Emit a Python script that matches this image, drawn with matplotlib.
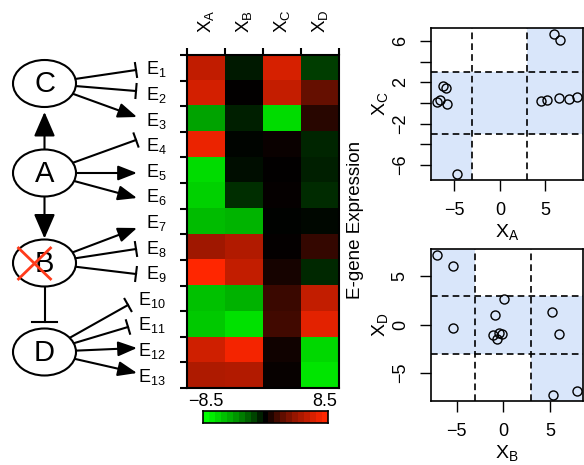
import numpy as np
import matplotlib
matplotlib.use('Agg')
import matplotlib.pyplot as plt
from matplotlib.colors import ListedColormap
from matplotlib.patches import Ellipse, Rectangle, FancyArrowPatch

plt.rcParams['font.family'] = ['Liberation Sans', 'DejaVu Sans']

# expression of the 13 E-genes, one list per regulator
genes = [str(i) for i in range(1, 14)]
regulators = ['A', 'B', 'C', 'D']
x_a = [5.94, 6.64, -4.67, 7.55, -6.93, -6.56, -5.76, 4.56, 8.50, -5.94, -6.27, 6.46, 5.14]
x_b = [-0.71, 0.07, -0.86, -0.14, -0.43, -1.14, -5.42, 5.25, 6.00, -5.36, -7.14, 7.93, 5.36]
x_c = [6.75, 6.10, -6.94, 0.36, 0.07, 0.26, -0.10, 0.16, 0.62, 1.45, 1.64, 0.49, 0.30]
x_d = [-1.52, 2.68, 1.03, -0.97, -0.82, -1.07, -0.31, 1.27, -1.00, 6.01, 7.22, -6.80, -7.29]

# network edges: regulator -> E-gene, 'act' = arrow, 'inh' = flat bar
edge_src = ['C', 'C', 'C', 'A', 'A', 'A', 'B', 'B', 'B', 'D', 'D', 'D', 'D']
edge_type = ['inh', 'inh', 'act', 'inh', 'act', 'act', 'act', 'inh', 'inh',
             'inh', 'inh', 'act', 'act']

W, H = 584, 465
fig = plt.figure(figsize=(W / 100, H / 100), dpi=100)


def box(l, t, r, b):
    # pixel box -> figure fraction
    return [l / W, 1 - b / H, (r - l) / W, (b - t) / H]


VMAX = 8.5
knot_v = [0, 0.3, 1.5, 2.7, 4.6, 6.0, 7.5, 8.5]
knot_i = [0, 0.03, 0.24, 0.40, 0.63, 0.76, 0.92, 1.0]
vals = np.linspace(-VMAX, VMAX, 256)
inten = np.interp(np.abs(vals), knot_v, knot_i)
cols = np.zeros((256, 3))
neg = vals < 0
cols[neg, 1] = inten[neg]
cols[~neg, 0] = inten[~neg]
cols[~neg, 1] = 0.15 * inten[~neg]
cmap = ListedColormap(cols)

# ---------------- network diagram (pixel coordinates) ----------------
ov = fig.add_axes([0, 0, 1, 1])
ov.set_xlim(0, W)
ov.set_ylim(H, 0)
ov.axis('off')

HT, HB = 55, 388
row_h = (HB - HT) / len(genes)
row_y = HT + (np.arange(len(genes)) + 0.5) * row_h

nodes = {'C': (44.5, 83.5), 'A': (44.5, 173), 'B': (44.5, 263), 'D': (44.5, 352)}
ea, eb = 31.5, 23.5
for name, (cx, cy) in nodes.items():
    ov.add_patch(Ellipse((cx, cy), 2 * ea, 2 * eb, fc='white', ec='k', lw=1.5, zorder=2))
    ov.text(cx, cy + 1, name, ha='center', va='center', fontsize=21, zorder=3)


def arrow(p0, p1, hl, hw):
    ov.add_patch(FancyArrowPatch(p0, p1, arrowstyle='-|>,head_length=%g,head_width=%g' % (hl, hw),
                                 mutation_scale=1, lw=1.5, color='k', shrinkA=0, shrinkB=0, zorder=1))


def bar(p0, p1, half):
    ov.plot([p0[0], p1[0]], [p0[1], p1[1]], color='k', lw=1.5, zorder=1)
    d = np.array(p1) - np.array(p0)
    n = np.array([-d[1], d[0]]) / np.hypot(*d)
    ov.plot([p1[0] - half * n[0], p1[0] + half * n[0]],
            [p1[1] - half * n[1], p1[1] + half * n[1]], color='k', lw=1.5, zorder=1)


# regulator-to-regulator edges
cx = nodes['A'][0]
arrow((cx, nodes['A'][1] - eb), (cx, nodes['C'][1] + eb + 5), 15, 6.5)
arrow((cx, nodes['A'][1] + eb), (cx, nodes['B'][1] - eb - 1), 15, 6.5)
ov.plot([cx, cx], [nodes['B'][1] + eb, 322], color='k', lw=1.5)
ov.plot([cx - 12.5, cx + 12.5], [322, 322], color='k', lw=1.5)

# knocked-out B
bx, by = nodes['B']
ov.plot([bx - 26, bx + 6], [by - 15, by + 16], color='#ff3a1a', lw=2, zorder=4)
ov.plot([bx + 6, bx - 26], [by - 15, by + 16], color='#ff3a1a', lw=2, zorder=4)

end_y = [70, 91, 117, 140, 173, 198, 228, 249, 274, 305, 327, 348, 373]
for k, g in enumerate(genes):
    lx = 146 if k < 9 else 138
    ov.text(lx, row_y[k] + 6.5, r'$\mathregular{E_{%s}}$' % g, ha='left', va='baseline', fontsize=13)
    sx, sy = nodes[edge_src[k]]
    if edge_type[k] == 'act':
        ex = 137
    else:
        ex = lx - 10
    ey = end_y[k]
    dx, dy = ex - sx, ey - sy
    s = 1 / np.sqrt((dx / ea) ** 2 + (dy / eb) ** 2)
    p0 = (sx + s * dx, sy + s * dy)
    if edge_type[k] == 'act':
        arrow(p0, (ex, ey), 11.5, 4.5)
    else:
        bar(p0, (ex, ey), 7)

# ---------------- heatmap ----------------
expr = np.column_stack([x_a, x_b, x_c, x_d])
hm = fig.add_axes(box(187, HT, 339, HB))
hm.imshow(expr, cmap=cmap, vmin=-VMAX, vmax=VMAX, aspect='auto', interpolation='nearest')
hm.set_xticks(np.arange(len(regulators) + 1) - 0.5)
hm.set_yticks(np.arange(len(genes) + 1) - 0.5)
hm.set_xticklabels([])
hm.set_yticklabels([])
hm.xaxis.tick_top()
hm.tick_params(length=5, width=1.5, direction='out')
for sp in hm.spines.values():
    sp.set_linewidth(1.5)
for j, r in enumerate(regulators):
    hm.annotate(r'$\mathregular{X_{%s}}$' % r, xy=(j, -0.5), xytext=(0, 16), textcoords='offset points',
                rotation=90, ha='center', va='bottom', fontsize=13.5, annotation_clip=False)

fig.text(355 / W, 1 - 220 / H, 'E-gene Expression', rotation=90, ha='center', va='center', fontsize=13.5)

# colour key
cb = fig.add_axes(box(203, 411, 328, 423))
steps = np.linspace(-VMAX, VMAX, 21)
cb.imshow(steps[None, :], cmap=cmap, vmin=-VMAX, vmax=VMAX, aspect='auto', interpolation='nearest')
cb.set_xticks([])
cb.set_yticks([])
for sp in cb.spines.values():
    sp.set_linewidth(1.2)
cb.annotate('\u22128.5', xy=(0, -0.5), xytext=(0, 1), textcoords='offset points',
            ha='center', va='bottom', fontsize=13, annotation_clip=False)
cb.annotate('8.5', xy=(len(steps) - 1, -0.5), xytext=(0, 1), textcoords='offset points',
            ha='center', va='bottom', fontsize=13, annotation_clip=False)


# ---------------- scatter panels ----------------
def panel(ax, x, y, sign, xname, yname, yticks, ylabels):
    x = np.asarray(x)
    y = np.asarray(y)

    def lims(v):
        pad = 0.04 * (v.max() - v.min())
        return v.min() - pad, v.max() + pad

    xl, yl = lims(x), lims(y)
    xe = [xl[0], -3, 3, xl[1]]
    ye = [yl[0], -3, 3, yl[1]]
    for i in range(3):
        for j in range(3):
            if j - 1 == 0 or j - 1 == sign * (i - 1):
                ax.add_patch(Rectangle((xe[i], ye[j]), xe[i + 1] - xe[i], ye[j + 1] - ye[j],
                                       fc='#d9e6fa', ec='none', zorder=0))
    for c in (-3, 3):
        ax.axvline(c, color='k', ls=(0, (4, 2.5)), lw=1.2, zorder=1)
        ax.axhline(c, color='k', ls=(0, (4, 2.5)), lw=1.2, zorder=1)
    ax.plot(x, y, 'o', mfc='none', mec='k', ms=6.5, mew=1, zorder=2)
    ax.set_xlim(xl)
    ax.set_ylim(yl)
    ax.set_xticks([-5, 0, 5])
    ax.set_xticklabels(['\u22125', '0', '5'])
    ax.set_yticks(yticks)
    ax.set_yticklabels(ylabels)
    ax.tick_params(length=8, width=1, pad=8, labelsize=13)
    plt.setp(ax.get_yticklabels(), rotation=90, va='center')
    for sp in ax.spines.values():
        sp.set_linewidth(1.2)
    ax.set_xlabel(r'$\mathregular{X_{%s}}$' % xname, fontsize=14, labelpad=2)
    ax.set_ylabel(r'$\mathregular{X_{%s}}$' % yname, fontsize=14, labelpad=1)


s1 = fig.add_axes(box(431, 28, 583, 180))
panel(s1, x_a, x_c, 1, 'A', 'C', [-6, -4, -2, 0, 2, 4, 6],
      ['\u22126', '', '\u22122', '', '2', '', '6'])
s2 = fig.add_axes(box(431, 249, 583, 401))
panel(s2, x_b, x_d, -1, 'B', 'D', [-5, 0, 5], ['\u22125', '0', '5'])

fig.savefig('out.png', dpi=100)
